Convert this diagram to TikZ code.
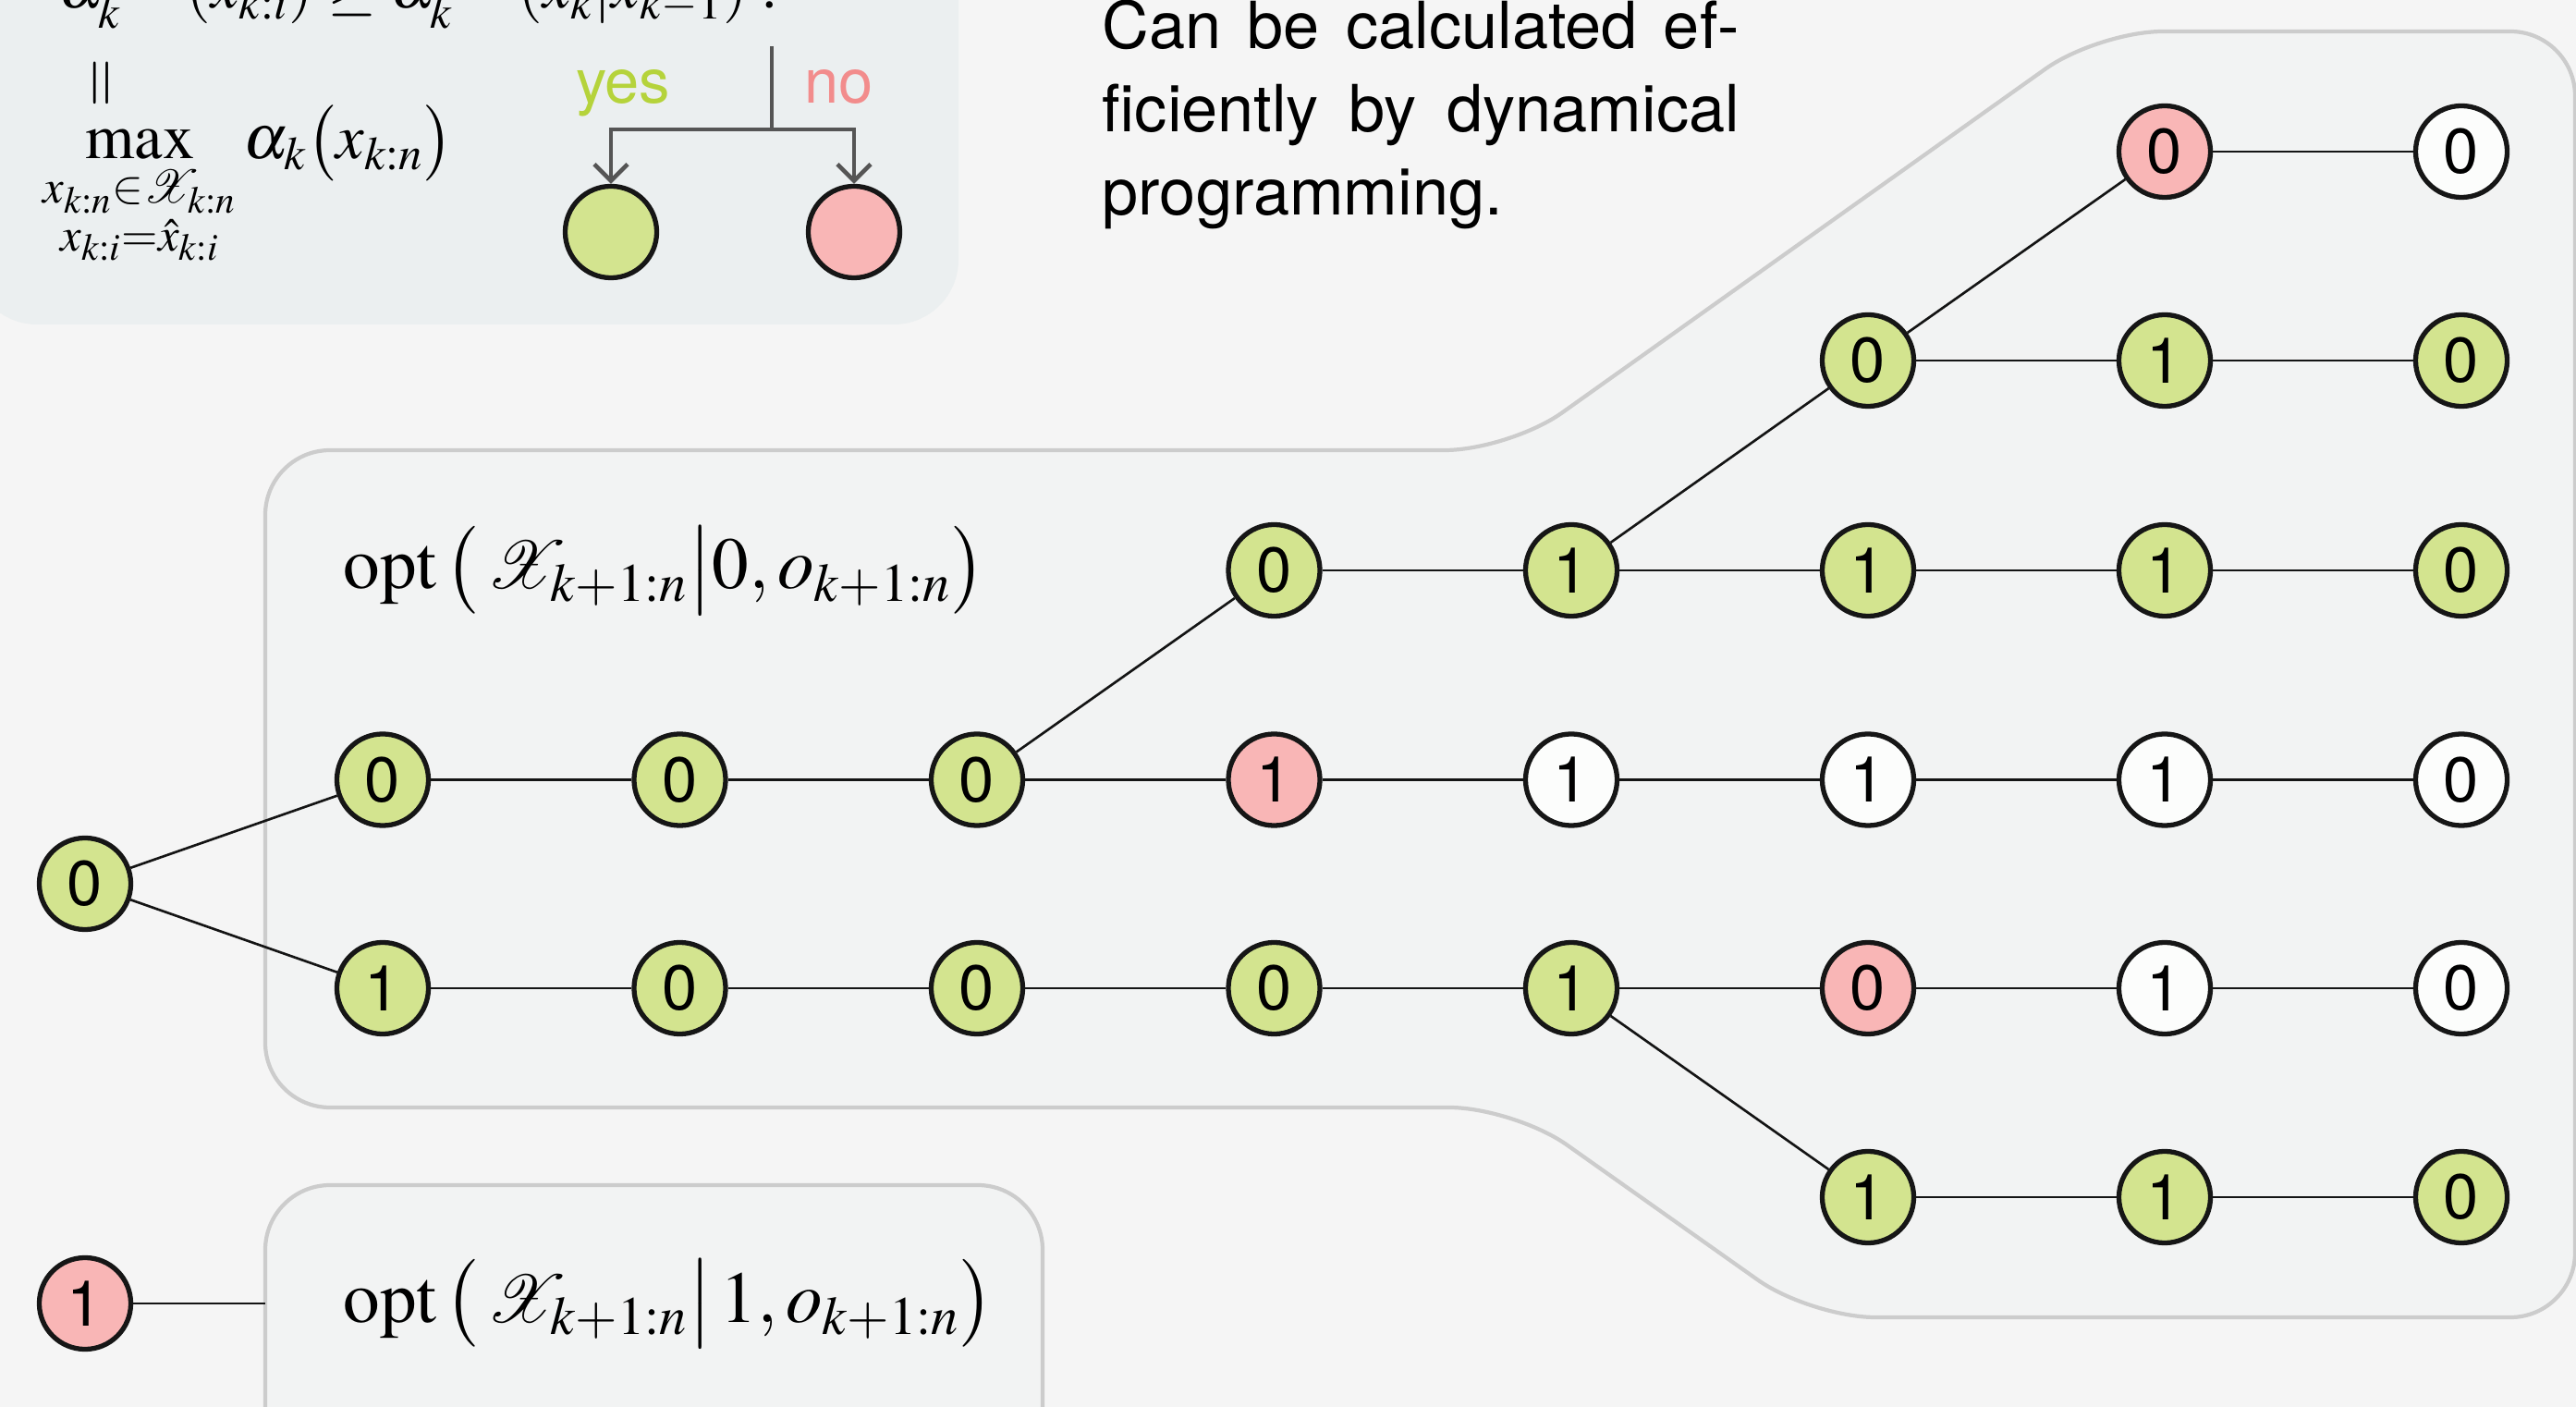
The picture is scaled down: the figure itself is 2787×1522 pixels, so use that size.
\documentclass[tikz,border=0pt]{standalone}
\usepackage{amsmath}
\usepackage{mathptmx}
\usepackage{mathrsfs}
\usepackage[no-math]{fontspec}
\newfontfamily\hv{TeX Gyre Heros}
\usetikzlibrary{arrows.meta}
\definecolor{bgc}{HTML}{F5F5F5}
\definecolor{shapefill}{HTML}{F2F3F3}
\definecolor{shapeline}{HTML}{CCCCCC}
\definecolor{boxfill}{HTML}{EBEFF0}
\definecolor{ngreen}{HTML}{D3E48F}
\definecolor{npink}{HTML}{F9B6B6}
\definecolor{nwhite}{HTML}{FCFDFC}
\definecolor{yescol}{HTML}{B5D33B}
\definecolor{nocol}{HTML}{F28C8C}
\definecolor{arrowgray}{HTML}{555555}
\definecolor{nborder}{HTML}{161616}
\tikzset{
  st/.style={circle, draw=nborder, line width=1.5pt, minimum size=0.99cm, inner sep=0pt,
    font=\hv\fontsize{19.5}{22}\selectfont},
  g/.style={st, fill=ngreen},
  p/.style={st, fill=npink},
  w/.style={st, fill=nwhite},
  edge/.style={line width=0.75pt, draw=black!92},
  region/.style={fill=shapefill, draw=shapeline, line width=1.2pt, rounded corners=0.7cm},
  mathtxt/.style={inner sep=0pt, font=\fontsize{19.5}{23}\selectfont},
  opttxt/.style={inner sep=0pt, font=\fontsize{22.5}{27}\selectfont},
  yn/.style={inner sep=0pt, font=\hv\fontsize{19}{23}\selectfont},
  para/.style={inner sep=0pt, anchor=base west, font=\hv\fontsize{20}{24}\selectfont},
  ynarrow/.style={draw=arrowgray, line width=1.3pt},
}
\begin{document}
\begin{tikzpicture}[x=0.01cm,y=-0.01cm]
\useasboundingbox (0,0) rectangle (2787,1522);
\clip (0,0) rectangle (2787,1522);
\fill[bgc] (0,0) rectangle (2787,1522);

% regions
\draw[region] (287,830) -- (287,487) -- (1633,487) -- (2270,34) -- (2786,34)
  -- (2786,1425) -- (1959,1425) -- (1638,1198) -- (287,1198) -- cycle;
\fill[boxfill, rounded corners=0.7cm] (-30,-100) rectangle (1037,351);
\draw[region] (287,1282) rectangle (1128,1650);

% top-left formulas
\node[mathtxt, anchor=base west] (l1) at (63,9)
  {$\alpha_k^{\phantom{\max}}(x_{k:i}) \geq \alpha_k^{\phantom{\max}}(x_k|x_{k-1})$};
\node[mathtxt, anchor=base] (q) at (832,9) {$?$};
\node[mathtxt, rotate=90] (eq) at (114,90) {$=$};
\node[mathtxt, anchor=base west] (maxl) at (46,172)
  {$\displaystyle\max_{\substack{x_{k:n}\in\mathscr{X}_{k:n}\\ x_{k:i}=\hat{x}_{k:i}}}\alpha_k\bigl(x_{k:n}\bigr)$};

% yes / no
\node[yn, text=yescol, anchor=base east] (yes) at (726,112) {yes};
\node[yn, text=nocol, anchor=base west] (no) at (870,112) {no};
\node[g] (yesc) at (661,251) {};
\node[p] (noc) at (924,251) {};
\coordinate (qs) at (835,50);
\coordinate (split) at (835,140);
\draw[ynarrow] (qs) -- (split);
\draw[ynarrow, -{Straight Barb[length=0.18cm,width=0.36cm]}] (split) -| (yesc);
\draw[ynarrow, -{Straight Barb[length=0.18cm,width=0.36cm]}] (split) -| (noc);

% paragraph
\node[para] (t1) at (1192,53) {\makebox[6.89cm][s]{Can be calculated ef-}};
\node[para] (t2) at (1192,143) {\makebox[6.89cm][s]{ficiently by dynamical}};
\node[para] (t3) at (1192,233) {programming.};

% opt labels
\node[opttxt, anchor=base west] (opt0) at (371,637)
  {$\operatorname{opt}\,\bigl(\,\mathscr{X}_{k+1:n}\big|0,o_{k+1:n}\bigr)$};
\node[opttxt, anchor=base west] (opt1) at (371,1430)
  {$\operatorname{opt}\,\bigl(\,\mathscr{X}_{k+1:n}\big|\,1,o_{k+1:n}\bigr)$};

% tree nodes
\node[g] (root) at (92,956) {0};
\node[p] (one) at (92,1410) {1};
\coordinate (lbw) at (287,1410);

\node[p] (a7) at (2342,164) {0};
\node[w] (a8) at (2663,164) {0};

\node[g] (b6) at (2021,390) {0};
\node[g] (b7) at (2342,390) {1};
\node[g] (b8) at (2663,390) {0};

\node[g] (c4) at (1378.5,617) {0};
\node[g] (c5) at (1700,617) {1};
\node[g] (c6) at (2021,617) {1};
\node[g] (c7) at (2342,617) {1};
\node[g] (c8) at (2663,617) {0};

\node[g] (d1) at (414,843.5) {0};
\node[g] (d2) at (735.5,843.5) {0};
\node[g] (d3) at (1057,843.5) {0};
\node[p] (d4) at (1378.5,843.5) {1};
\node[w] (d5) at (1700,843.5) {1};
\node[w] (d6) at (2021,843.5) {1};
\node[w] (d7) at (2342,843.5) {1};
\node[w] (d8) at (2663,843.5) {0};

\node[g] (e1) at (414,1069) {1};
\node[g] (e2) at (735.5,1069) {0};
\node[g] (e3) at (1057,1069) {0};
\node[g] (e4) at (1378.5,1069) {0};
\node[g] (e5) at (1700,1069) {1};
\node[p] (e6) at (2021,1069) {0};
\node[w] (e7) at (2342,1069) {1};
\node[w] (e8) at (2663,1069) {0};

\node[g] (f6) at (2021,1295) {1};
\node[g] (f7) at (2342,1295) {1};
\node[g] (f8) at (2663,1295) {0};

% edges
\draw[edge] (root) -- (d1);
\draw[edge] (root) -- (e1);
\draw[edge] (one) -- (lbw);
\draw[edge] (d1) -- (d2) -- (d3) -- (d4) -- (d5) -- (d6) -- (d7) -- (d8);
\draw[edge] (e1) -- (e2) -- (e3) -- (e4) -- (e5) -- (e6) -- (e7) -- (e8);
\draw[edge] (d3) -- (c4);
\draw[edge] (c4) -- (c5) -- (c6) -- (c7) -- (c8);
\draw[edge] (c5) -- (b6);
\draw[edge] (b6) -- (b7) -- (b8);
\draw[edge] (b6) -- (a7);
\draw[edge] (a7) -- (a8);
\draw[edge] (e5) -- (f6);
\draw[edge] (f6) -- (f7) -- (f8);
\end{tikzpicture}
\end{document}
